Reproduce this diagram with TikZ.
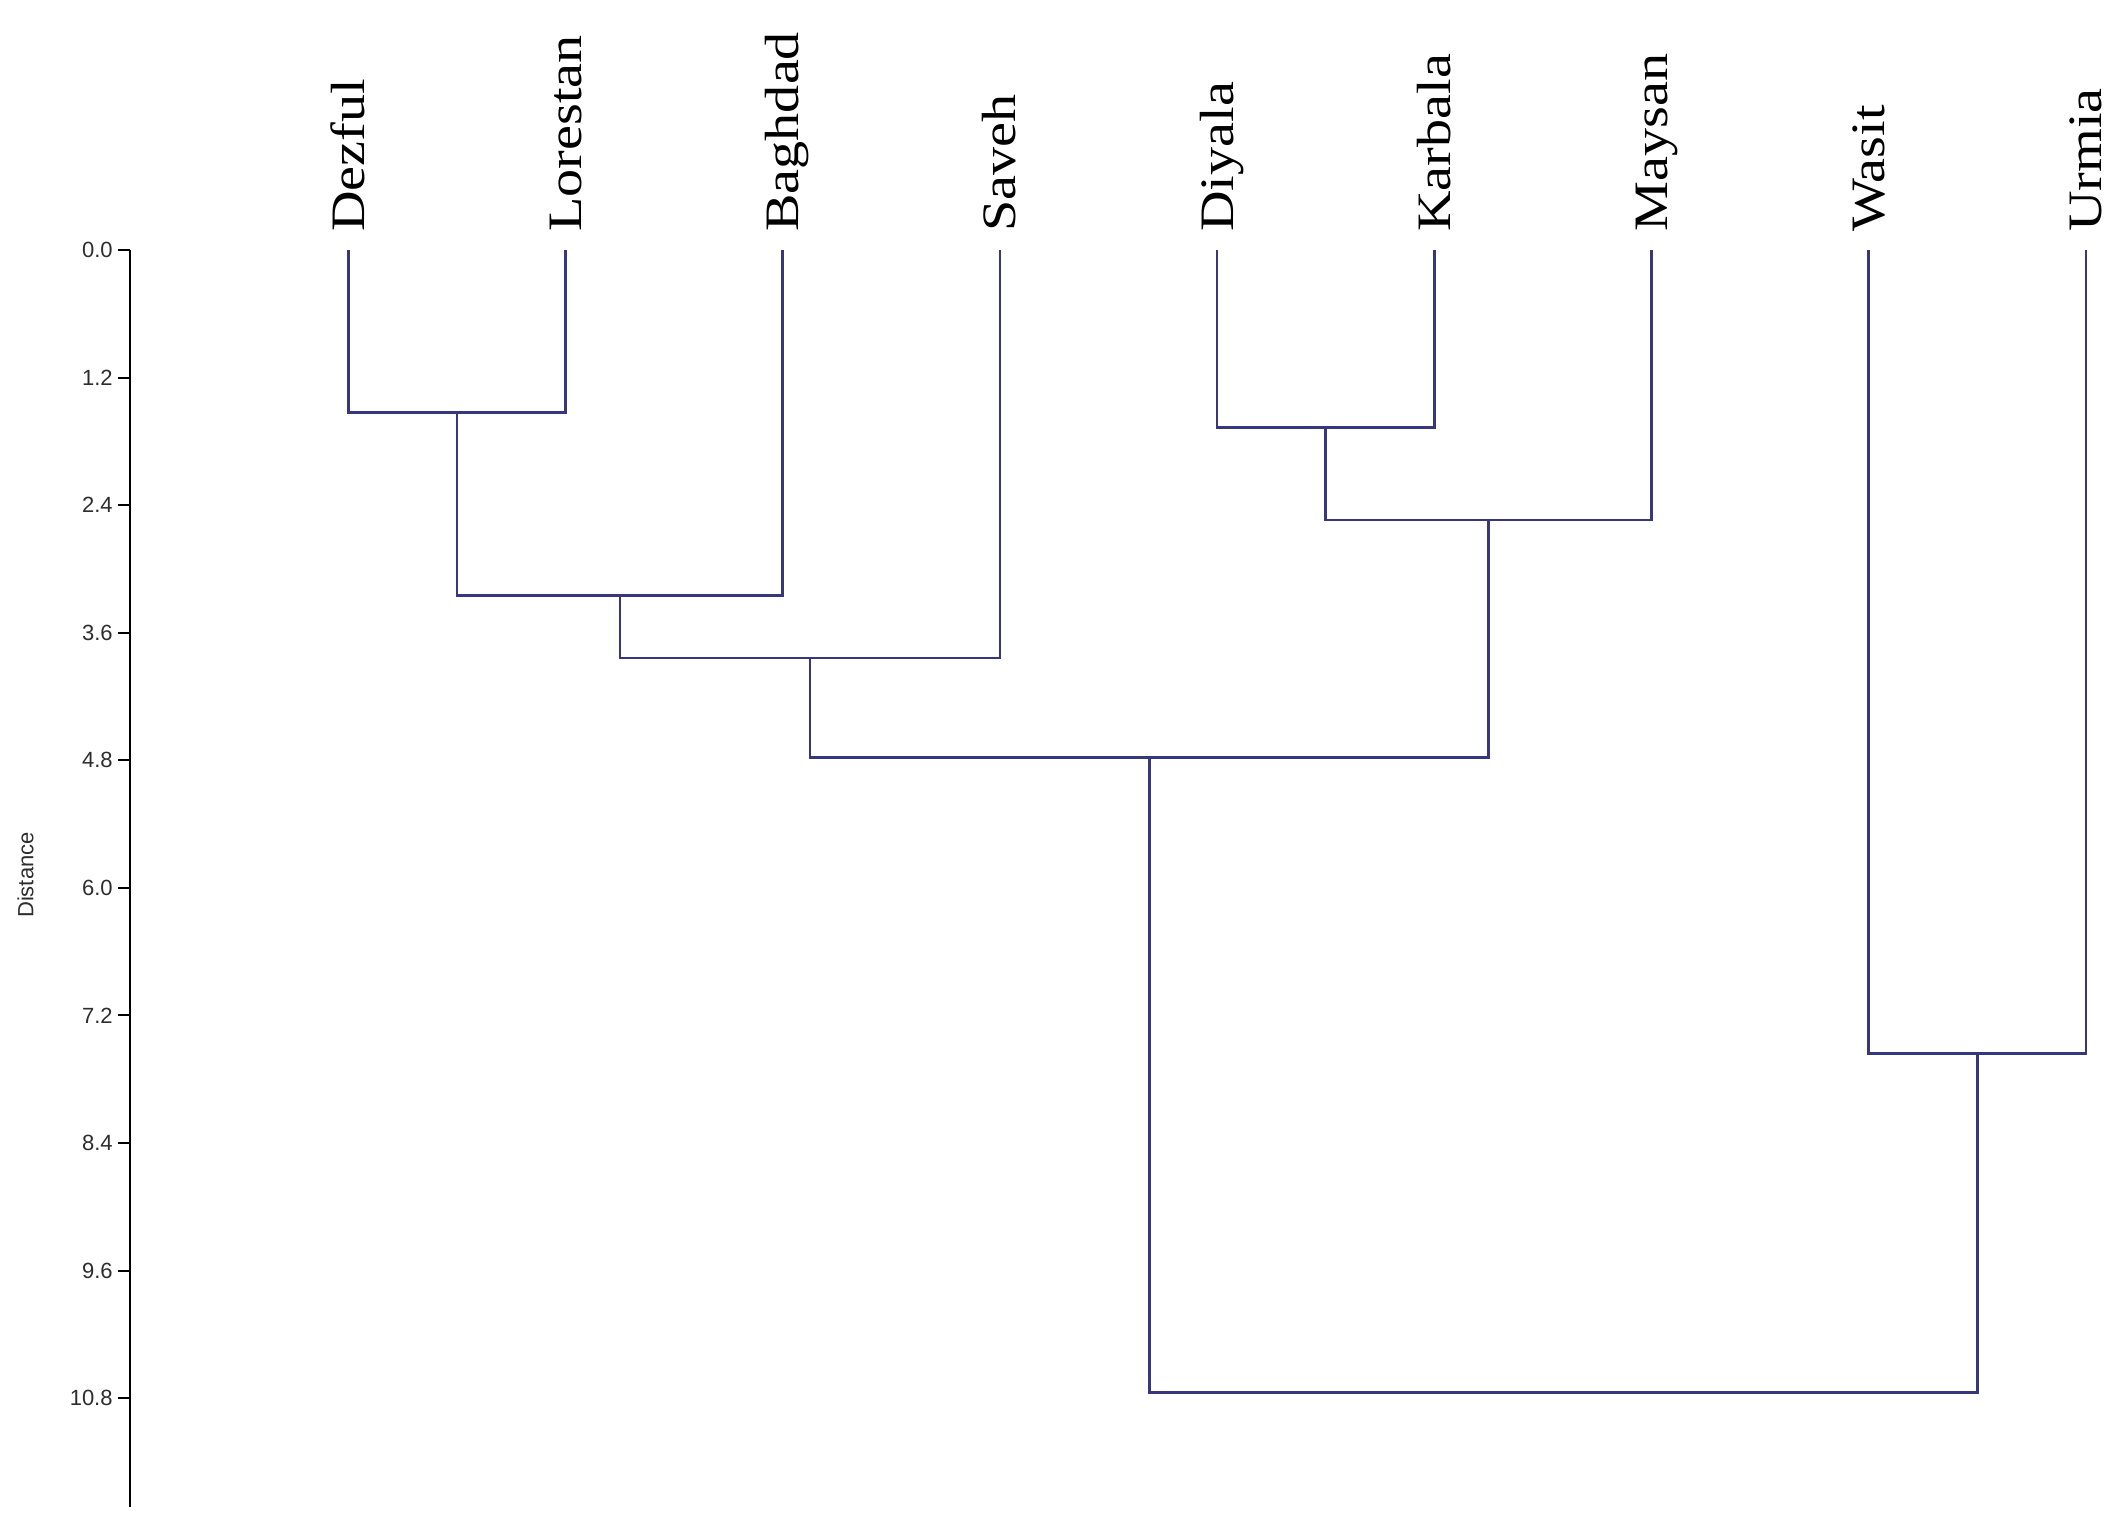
\documentclass[tikz,border=0pt]{standalone}
\usepackage{fontspec}
\setmainfont{Liberation Serif}
\setsansfont{Liberation Sans}
\definecolor{dendro}{RGB}{55,55,125}
\definecolor{ticktext}{RGB}{45,45,45}
\tikzset{
  leaf/.style={rotate=90, anchor=base west, inner sep=0pt, font=\fontsize{24}{24}\selectfont},
  link/.style={draw=dendro, line width=1.3pt},
  axisline/.style={draw=black, line width=1pt},
  ticklab/.style={anchor=east, inner sep=0pt, text=ticktext, font=\sffamily\fontsize{11}{11}\selectfont},
}
\begin{document}
\begin{tikzpicture}[x=0.5pt, y=-0.5pt]
\useasboundingbox (0,0) rectangle (2128,1532);
% axis
\coordinate (atop) at (130,250);
\coordinate (abot) at (130,1507);
\draw[axisline] (atop) -- (abot);
\foreach \v [count=\k from 0] in {0.0,1.2,2.4,3.6,4.8,6.0,7.2,8.4,9.6,10.8} {
  \coordinate (t\k) at (130,250+127.56*\k);
  \draw[axisline] (t\k) -- ++(-12,0);
  \node[ticklab] (tl\k) at (113,250+127.56*\k) {\v};
}
\node[rotate=90, inner sep=0pt, text=ticktext, font=\sffamily\fontsize{11}{11}\selectfont] (dist) at (25.5,875) {Distance};
% leaves
\foreach \n/\t [count=\i from 0] in {d/Dezful, l/Lorestan, b/Baghdad, s/Saveh, y/Diyala, k/Karbala, m/Maysan, w/Wasit, u/Urmia} {
  \coordinate (\n) at (348.3+217.2*\i, 250);
  \node[leaf] (lab\n) at (364.3+217.2*\i, 232) {\scalebox{1.17}[1]{\t}};
}
% merges
\coordinate (n1) at (456.9, 412.6);
\coordinate (n2) at (619.8, 595.7);
\coordinate (n3) at (809.85, 658.1);
\coordinate (n4) at (1325.7, 427.5);
\coordinate (n5) at (1488.6, 519.8);
\coordinate (n6) at (1149.2, 757.2);
\coordinate (n7) at (1977.3, 1053.3);
\coordinate (n8) at (1563.25, 1392.7);
\draw[link] (d) |- (n1) -| (l);
\draw[link] (n1) |- (n2) -| (b);
\draw[link] (n2) |- (n3) -| (s);
\draw[link] (y) |- (n4) -| (k);
\draw[link] (n4) |- (n5) -| (m);
\draw[link] (n3) |- (n6) -| (n5);
\draw[link] (w) |- (n7) -| (u);
\draw[link] (n6) |- (n8) -| (n7);
\end{tikzpicture}
\end{document}
